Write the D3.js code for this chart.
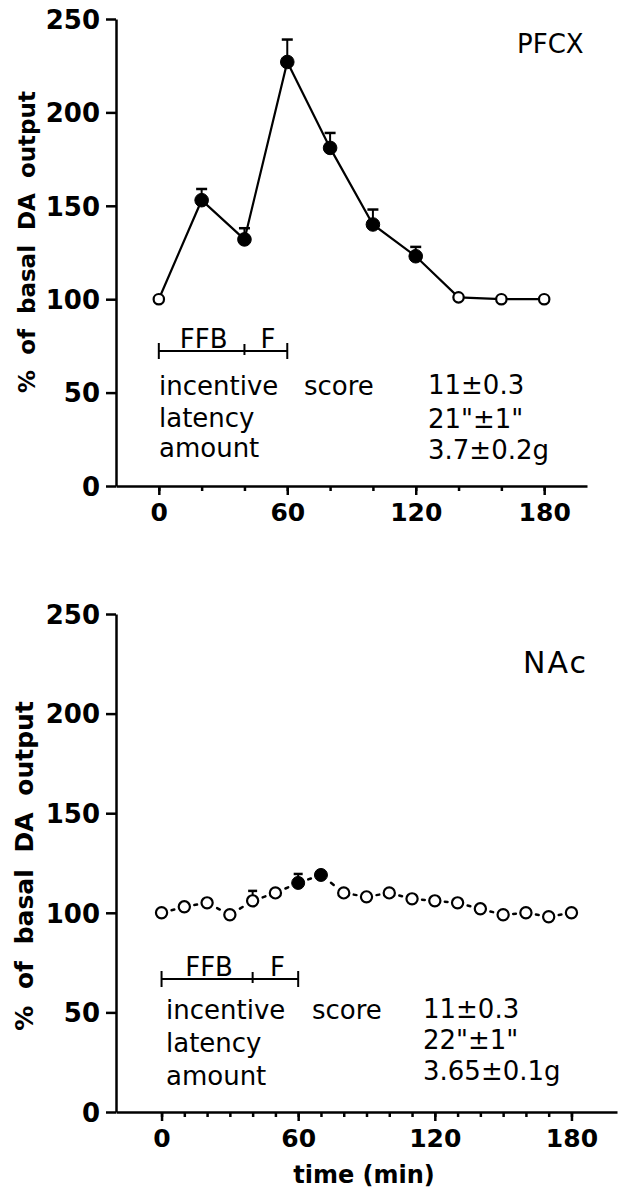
<!DOCTYPE html>
<html>
<head>
<meta charset="utf-8">
<script src="https://cdn.jsdelivr.net/npm/d3@7"></script>
<style>
  body { margin: 0; background: #fff; }
  svg { display: block; }
  .axis path, .axis line { stroke: #000; stroke-width: 2.5; }
  .axis text { font-family: "DejaVu Sans", sans-serif; font-weight: bold; fill: #000; }
  .note { font-family: "DejaVu Sans", sans-serif; fill: #000; }
</style>
</head>
<body>
<script>
// PFCX panel (top)
var pfcxTime = [0, 20, 40, 60, 80, 100, 120, 140, 160, 180];
var pfcxValue = [100, 153, 132, 227, 181, 140, 123, 101, 100, 100];
var pfcxErr = [0, 6, 6, 12, 8, 8, 5, 0, 0, 0];
var pfcxFilled = [false, true, true, true, true, true, true, false, false, false];
var pfcxStats = ["11±0.3", "21\"±1\"", "3.7±0.2g"];

// NAc panel (bottom)
var nacTime = [0, 10, 20, 30, 40, 50, 60, 70, 80, 90, 100, 110, 120, 130, 140, 150, 160, 170, 180];
var nacValue = [100, 103, 105, 99, 106, 110, 115, 119, 110, 108, 110, 107, 106, 105, 102, 99, 100, 98, 100];
var nacErr = [0, 0, 0, 0, 5, 0, 4.5, 0, 0, 0, 0, 0, 0, 0, 0, 0, 0, 0, 0];
var nacFilled = [false, false, false, false, false, false, true, true, false, false, false, false, false, false, false, false, false, false, false];
var nacStats = ["11±0.3", "22\"±1\"", "3.65±0.1g"];

// shared
var yTicks = [0, 50, 100, 150, 200, 250];
var xMajorTicks = [0, 60, 120, 180];
var phaseBounds = [0, 40, 60];
var phaseLabels = ["FFB", "F"];
var statLabels = ["incentive", "latency", "amount"];

var W = 625, H = 1199;
var svg = d3.select("body").append("svg")
    .attr("width", W)
    .attr("height", H);

function drawPanel(p) {
    var x = d3.scaleLinear().domain([-20, 200]).range(p.xRange);
    var y = d3.scaleLinear().domain([0, 250]).range(p.yRange);
    var g = svg.append("g");

    // axes
    g.append("g").attr("class", "axis")
        .attr("transform", "translate(" + p.xRange[0] + ",0)")
        .call(d3.axisLeft(y).tickValues(yTicks).tickSize(10).tickPadding(6).tickSizeOuter(0))
        .selectAll("text").style("font-size", "26px").attr("dy", "0.36em");

    g.append("g").attr("class", "axis")
        .attr("transform", "translate(0," + p.yRange[0] + ")")
        .call(d3.axisBottom(x).tickValues(d3.range(0, 181, p.minorStep)).tickSize(5).tickFormat("").tickSizeOuter(0));

    var xa = g.append("g").attr("class", "axis")
        .attr("transform", "translate(0," + p.yRange[0] + ")")
        .call(d3.axisBottom(x).tickValues(xMajorTicks).tickSize(9).tickPadding(8).tickSizeOuter(0));
    xa.select(".domain").remove();
    xa.selectAll("text").style("font-size", "25px");

    // y title
    g.append("text")
        .attr("class", "note")
        .attr("transform", "translate(" + p.yTitle[0] + "," + p.yTitle[1] + ") rotate(-90)")
        .attr("text-anchor", "middle")
        .style("font-weight", "bold")
        .style("font-size", p.yTitleSize + "px")
        .style("word-spacing", p.yTitleGap + "px")
        .text("% of basal DA output");

    // connecting line
    var pts = p.time.map(function (t, i) { return [x(t), y(p.value[i])]; });
    if (p.dotted) {
        g.selectAll(".seg").data(d3.pairs(pts)).enter().append("line")
            .attr("x1", function (d) { return d[0][0] + (d[1][0] - d[0][0]) * 0.44; })
            .attr("y1", function (d) { return d[0][1] + (d[1][1] - d[0][1]) * 0.44; })
            .attr("x2", function (d) { return d[0][0] + (d[1][0] - d[0][0]) * 0.56; })
            .attr("y2", function (d) { return d[0][1] + (d[1][1] - d[0][1]) * 0.56; })
            .attr("stroke", "#000").attr("stroke-width", 2.5).attr("stroke-linecap", "round");
    } else {
        g.append("path")
            .attr("d", d3.line()(pts))
            .attr("fill", "none").attr("stroke", "#000").attr("stroke-width", 2.2);
    }

    // error bars
    p.time.forEach(function (t, i) {
        if (!p.err[i]) return;
        var cx = x(t), top = y(p.value[i] + p.err[i]);
        g.append("line").attr("x1", cx).attr("x2", cx)
            .attr("y1", y(p.value[i])).attr("y2", top)
            .attr("stroke", "#000").attr("stroke-width", 2);
        g.append("line").attr("x1", cx - p.cap).attr("x2", cx + p.cap)
            .attr("y1", top).attr("y2", top)
            .attr("stroke", "#000").attr("stroke-width", 2.5);
    });

    // markers
    g.selectAll(".pt").data(p.time).enter().append("circle")
        .attr("cx", function (d) { return x(d); })
        .attr("cy", function (d, i) { return y(p.value[i]); })
        .attr("r", function (d, i) { return p.filled[i] ? p.rFill : p.rOpen; })
        .attr("fill", function (d, i) { return p.filled[i] ? "#000" : "#fff"; })
        .attr("stroke", "#000")
        .attr("stroke-width", function (d, i) { return p.filled[i] ? 1 : 2.2; });

    // region label
    g.append("text").attr("class", "note")
        .attr("x", p.label[0]).attr("y", p.label[1])
        .style("font-size", p.labelSize + "px")
        .style("letter-spacing", p.labelSpacing + "px")
        .text(p.name);

    // FFB / F bar
    var by = p.barY;
    g.append("line")
        .attr("x1", x(phaseBounds[0])).attr("x2", x(phaseBounds[2]))
        .attr("y1", by).attr("y2", by)
        .attr("stroke", "#000").attr("stroke-width", 2);
    g.selectAll(".pb").data(phaseBounds).enter().append("line")
        .attr("x1", function (d) { return x(d); }).attr("x2", function (d) { return x(d); })
        .attr("y1", function (d, i) { return i === 1 ? by - 7 : by - 8; })
        .attr("y2", function (d, i) { return i === 1 ? by + 4 : by + 8; })
        .attr("stroke", "#000").attr("stroke-width", 2);
    g.selectAll(".pl").data(phaseLabels).enter().append("text")
        .attr("class", "note")
        .attr("x", function (d, i) { return (x(phaseBounds[i]) + x(phaseBounds[i + 1])) / 2 + 2; })
        .attr("y", by - 3)
        .attr("text-anchor", "middle")
        .style("font-size", "26px")
        .text(function (d) { return d; });

    // stats block
    g.selectAll(".sl").data(statLabels).enter().append("text")
        .attr("class", "note")
        .attr("x", p.statX[0])
        .attr("y", function (d, i) { return p.statY[i]; })
        .style("font-size", "26px")
        .text(function (d) { return d; });
    g.append("text").attr("class", "note")
        .attr("x", p.statX[1]).attr("y", p.statY[0])
        .style("font-size", "26px").text("score");
    g.selectAll(".sv").data(p.stats).enter().append("text")
        .attr("class", "note")
        .attr("x", p.statX[2])
        .attr("y", function (d, i) { return p.valY[i]; })
        .style("font-size", "26px")
        .text(function (d) { return d; });

    return x;
}

drawPanel({
    name: "PFCX", time: pfcxTime, value: pfcxValue, err: pfcxErr, filled: pfcxFilled, stats: pfcxStats,
    xRange: [116, 587], yRange: [486, 19], minorStep: 20, dotted: false,
    rFill: 6.8, rOpen: 5.2, cap: 5.5,
    yTitle: [35, 242], yTitleSize: 23, yTitleGap: 7,
    label: [517, 53], labelSize: 26, labelSpacing: 0,
    barY: 351, statX: [159, 304, 428], statY: [395, 427, 457], valY: [394, 428, 459]
});

drawPanel({
    name: "NAc", time: nacTime, value: nacValue, err: nacErr, filled: nacFilled, stats: nacStats,
    xRange: [116, 617], yRange: [1112, 614], minorStep: 10, dotted: true,
    rFill: 6.5, rOpen: 5.6, cap: 4.5,
    yTitle: [33, 866], yTitleSize: 25, yTitleGap: 8,
    label: [523, 673], labelSize: 30, labelSpacing: 2,
    barY: 979, statX: [166, 312, 423], statY: [1019, 1052, 1085], valY: [1018, 1049, 1080]
});

svg.append("text").attr("class", "note")
    .attr("x", 364).attr("y", 1183)
    .attr("text-anchor", "middle")
    .style("font-weight", "bold")
    .style("font-size", "24px")
    .text("time (min)");
</script>
</body>
</html>
